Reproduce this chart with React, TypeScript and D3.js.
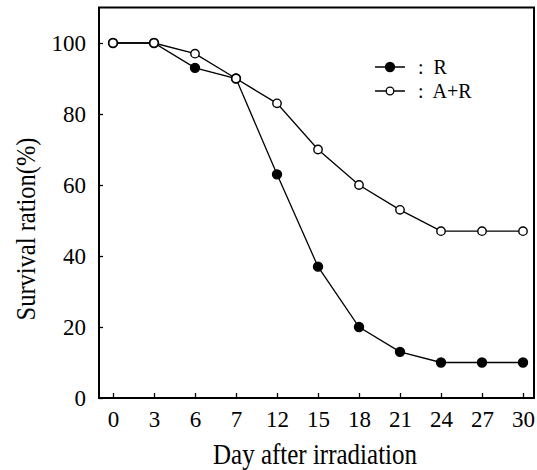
import React, { useEffect, useRef } from "react";
import { select, scalePoint, scaleLinear, axisLeft, axisBottom, line } from "d3";

const days = ["0", "3", "6", "7", "12", "15", "18", "21", "24", "27", "30"];
const survivalR = [100, 100, 93, 90, 63, 37, 20, 13, 10, 10, 10];
const survivalAR = [100, 100, 97, 90, 83, 70, 60, 53, 47, 47, 47];
const yTicks = [0, 20, 40, 60, 80, 100];

const FONT = "Liberation Serif, DejaVu Serif, serif";

const App = () => {
  const ref = useRef<SVGSVGElement>(null);

  useEffect(() => {
    const svg = select(ref.current);
    svg.selectAll("*").remove();

    const left = 99;
    const right = 534;
    const x = scalePoint().domain(days).range([113, 523]);
    const y = scaleLinear().domain([0, 100]).range([398, 43]);
    const top = y(110);
    const bottom = y(0);

    // frame
    svg
      .append("rect")
      .attr("x", left)
      .attr("y", top)
      .attr("width", right - left)
      .attr("height", bottom - top)
      .attr("fill", "none")
      .attr("stroke", "#000")
      .attr("stroke-width", 2);

    const yAxis = axisLeft(y).tickValues(yTicks).tickSizeInner(-4).tickSizeOuter(0).tickPadding(13);
    const gy = svg.append("g").attr("transform", `translate(${left},0)`).call(yAxis);
    gy.select(".domain").remove();

    const xAxis = axisBottom(x).tickSizeInner(-5).tickSizeOuter(0).tickPadding(13);
    const gx = svg.append("g").attr("transform", `translate(0,${bottom})`).call(xAxis);
    gx.select(".domain").remove();

    svg.selectAll("g").attr("font-family", FONT);
    svg
      .selectAll(".tick text")
      .attr("font-family", FONT)
      .attr("font-size", 23)
      .attr("fill", "#000");
    svg.selectAll(".tick line").attr("stroke", "#000").attr("stroke-width", 1.3);

    const path = line<number>()
      .x((d, i) => x(days[i]) as number)
      .y((d) => y(d));

    const drawSeries = (values: number[], filled: boolean, r: number) => {
      svg
        .append("path")
        .attr("d", path(values))
        .attr("fill", "none")
        .attr("stroke", "#000")
        .attr("stroke-width", 1.3);
      svg
        .append("g")
        .selectAll("circle")
        .data(values)
        .join("circle")
        .attr("cx", (d, i) => x(days[i]) as number)
        .attr("cy", (d) => y(d))
        .attr("r", r)
        .attr("fill", filled ? "#000" : "#fff")
        .attr("stroke", "#000")
        .attr("stroke-width", 1.4);
    };

    drawSeries(survivalR, true, 4.5);
    drawSeries(survivalAR, false, 4.2);

    // legend
    const legend = [
      { label: ":  R", filled: true, r: 4.5, y: 67 },
      { label: ":  A+R", filled: false, r: 3.8, y: 91 },
    ];
    legend.forEach((l) => {
      svg
        .append("line")
        .attr("x1", 375)
        .attr("x2", 405)
        .attr("y1", l.y)
        .attr("y2", l.y)
        .attr("stroke", "#000")
        .attr("stroke-width", 1.5);
      svg
        .append("circle")
        .attr("cx", 390)
        .attr("cy", l.y)
        .attr("r", l.r)
        .attr("fill", l.filled ? "#000" : "#fff")
        .attr("stroke", "#000")
        .attr("stroke-width", 1.3);
      svg
        .append("text")
        .attr("x", 418)
        .attr("y", l.y + 7)
        .attr("font-family", FONT)
        .attr("font-size", 20)
        .style("white-space", "pre")
        .text(l.label);
    });

    // axis titles
    svg
      .append("text")
      .attr("transform", "translate(315,464) scale(1,1.15)")
      .attr("text-anchor", "middle")
      .attr("font-family", FONT)
      .attr("font-size", 25)
      .text("Day after irradiation");

    svg
      .append("text")
      .attr("transform", "translate(35,229) rotate(-90) scale(1,1.15)")
      .attr("text-anchor", "middle")
      .attr("font-family", FONT)
      .attr("font-size", 24.5)
      .text("Survival ration(%)");
  }, []);

  return (
    <svg
      ref={ref}
      width={537}
      height={470}
      style={{ position: "absolute", left: 0, top: 0, background: "#fff" }}
    />
  );
};

export default App;
